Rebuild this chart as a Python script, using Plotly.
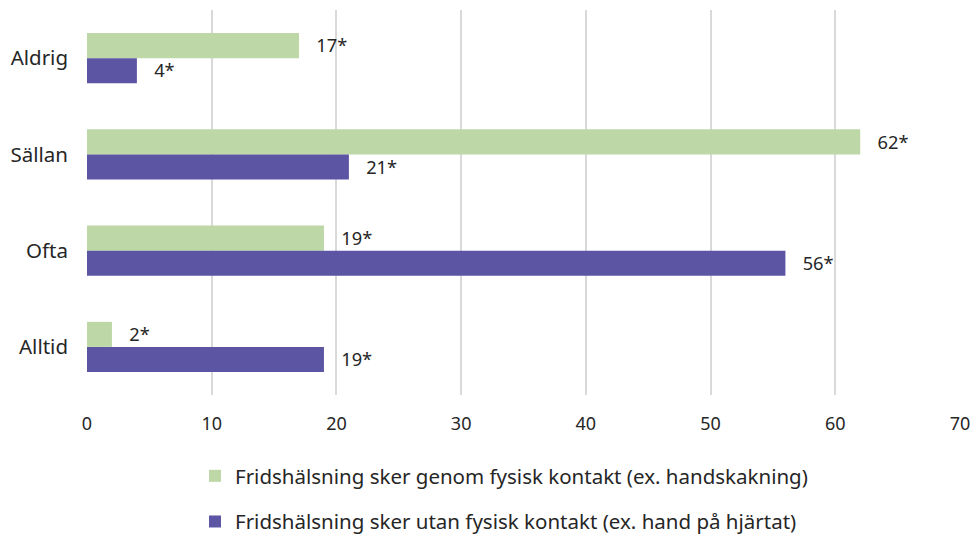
import plotly.graph_objects as go

categories = ["Aldrig", "Sällan", "Ofta", "Alltid"]
series_names = [
    "Fridshälsning sker genom fysisk kontakt (ex. handskakning)",
    "Fridshälsning sker utan fysisk kontakt (ex. hand på hjärtat)",
]
green_values = [17, 62, 19, 2]
purple_values = [4, 21, 56, 19]
x_ticks = [0, 10, 20, 30, 40, 50, 60, 70]

font_family = "Source Sans Pro, Noto Sans, sans-serif"
text_color = "#262626"

W, H = 974, 534

fig = go.Figure()
for name, vals, color, grp in [
    (series_names[0], green_values, "#BDD7A6", "g1"),
    (series_names[1], purple_values, "#5C55A4", "g2"),
]:
    fig.add_trace(go.Bar(
        y=categories, x=vals, name=name, orientation="h",
        marker=dict(color=color, line=dict(width=0)),
        texttemplate="\u00a0\u00a0\u00a0%{x}*", textposition="outside",
        textfont=dict(size=19, color=text_color, family=font_family),
        cliponaxis=False, legendgroup=grp,
    ))

fig.update_layout(
    barmode="group",
    bargap=0.48,
    bargroupgap=0.0,
    width=W, height=H,
    margin=dict(l=87, r=14, t=10, b=139, autoexpand=False),
    plot_bgcolor="white", paper_bgcolor="white",
    font=dict(family=font_family, size=19, color=text_color),
    xaxis=dict(range=[0, 70], tickvals=x_ticks, showgrid=True,
               gridcolor="#D9D9D9", gridwidth=2, zeroline=False,
               tickfont=dict(size=18), ticks="", showline=False,
               automargin=False, ticklabelstandoff=16,
               ticklabeloverflow="allow"),
    yaxis=dict(autorange="reversed", ticks="", showline=False,
               tickfont=dict(size=20.5), automargin=False,
               ticklabelstandoff=18),
    legend=dict(orientation="v", x=0.1237, xanchor="left",
                yref="container", y=(H - 456) / H,
                yanchor="top", font=dict(size=20.5), tracegroupgap=16,
                itemwidth=30),
    showlegend=True,
)

fig.write_html(
    "out.html",
    config={"displayModeBar": False},
    post_script="document.documentElement.style.overflow='hidden';"
                "document.body.style.overflow='hidden';"
                "document.body.style.margin='0';",
)
